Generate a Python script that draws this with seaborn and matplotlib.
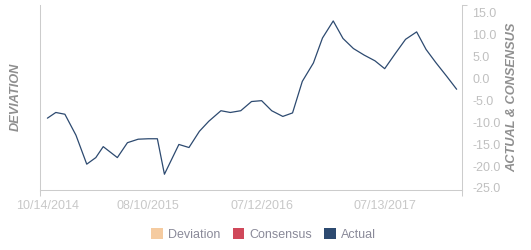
import matplotlib
matplotlib.use('Agg')
import matplotlib.pyplot as plt
import matplotlib.transforms as mtransforms
from matplotlib.patches import Patch
import seaborn as sns
import pandas as pd

# ---- data ----
dates = [
    '2014-10-14', '2014-11-08', '2014-12-05', '2015-01-07', '2015-02-08',
    '2015-03-07', '2015-03-29', '2015-05-10', '2015-06-09', '2015-07-11',
    '2015-08-10', '2015-09-06', '2015-09-27', '2015-11-09', '2015-12-09',
    '2016-01-09', '2016-02-06', '2016-03-13', '2016-04-10', '2016-05-11',
    '2016-06-12', '2016-07-12', '2016-08-11', '2016-09-13', '2016-10-12',
    '2016-11-10', '2016-12-13', '2017-01-09', '2017-02-10', '2017-03-11',
    '2017-04-11', '2017-05-13', '2017-06-14', '2017-07-13', '2017-08-13',
    '2017-09-13', '2017-10-16', '2017-11-13', '2017-12-12', '2018-01-13',
    '2018-02-12',
]
actual = [
    -8.6, -7.3, -7.7, -12.5, -19.1,
    -17.6, -15.1, -17.6, -14.2, -13.4,
    -13.3, -13.3, -21.4, -14.6, -15.3,
    -11.6, -9.3, -6.9, -7.3, -6.9,
    -4.8, -4.6, -6.9, -8.2, -7.4,
    -0.2, 4.0, 9.7, 13.6, 9.6,
    7.3, 5.8, 4.5, 2.7, 6.1,
    9.4, 11.1, 7.1, 4.1, 1.0,
    -2.0,
]
xtick_dates = ['2014-10-14', '2015-08-10', '2016-07-12', '2017-07-13']
ytick_values = [-25, -20, -15, -10, -5, 0, 5, 10, 15]
legend_labels = ['Deviation', 'Consensus', 'Actual']
legend_colors = ['#f5cba0', '#d0485a', '#2d4a70']

# ---- style ----
sns.set_theme(style='white')
plt.rcParams['font.family'] = ['Liberation Sans', 'DejaVu Sans']
plt.rcParams['axes.unicode_minus'] = False

W, H = 531, 250
fig = plt.figure(figsize=(W / 100, H / 100), dpi=100)
ax_l, ax_r, ax_t, ax_b = 40, 461.7, 5, 190
ax = fig.add_axes([ax_l / W, 1 - ax_b / H, (ax_r - ax_l) / W, (ax_b - ax_t) / H])

df = pd.DataFrame({'date': pd.to_datetime(dates), 'actual': actual})
sns.lineplot(data=df, x='date', y='actual', ax=ax, color=legend_colors[2],
             linewidth=0.9, legend=False)

x0, x1 = pd.Timestamp('2014-09-22'), pd.Timestamp('2018-02-27')
ax.set_xlim(x0, x1)
ax.set_ylim(-25, 17.24)

axis_col = '#cccccc'
for s in ['left', 'right', 'bottom']:
    ax.spines[s].set_color(axis_col)
    ax.spines[s].set_linewidth(0.75)
ax.spines['top'].set_visible(False)
ax.grid(False)
ax.set_xlabel('')
ax.set_ylabel('')

# x axis
xt = pd.to_datetime(xtick_dates)
ax.set_xticks(xt)
ax.set_xticklabels([d.strftime('%m/%d/%Y') for d in xt])
ax.tick_params(axis='x', which='major', length=0, pad=7.5, labelsize=9,
               labelcolor='#c8c8c8')
ax.set_xticks([x0, x1], minor=True)
ax.set_xticklabels(['', ''], minor=True)
ax.tick_params(axis='x', which='minor', length=4.3, width=0.75, color=axis_col,
               direction='out', bottom=True)

# y axis on the right
ax.yaxis.tick_right()
ax.set_yticks(ytick_values)
ax.set_yticklabels([f'{v:.1f}' for v in ytick_values])
ax.tick_params(axis='y', which='major', length=0, pad=7.5, labelsize=9,
               labelcolor='#c0c0c0', left=False, right=True)
ax.set_yticks([-25, 17.24], minor=True)
ax.set_yticklabels(['', ''], minor=True)
ax.tick_params(axis='y', which='minor', length=3.4, width=0.75, color=axis_col,
               direction='out', left=False, right=True)
offset = mtransforms.ScaledTranslation(0, 2 / 100, fig.dpi_scale_trans)
for t in ax.get_yticklabels():
    t.set_transform(t.get_transform() + offset)

# axis titles
fig.text(16 / W, 1 - 96.7 / H, 'DEVIATION', rotation=90, ha='center', va='center',
         fontsize=9.2, fontstyle='italic', fontweight='bold', color='#8f8f8f')
fig.text(512.5 / W, 1 - 97.5 / H, 'ACTUAL & CONSENSUS', rotation=90, ha='center',
         va='center', fontsize=9.2, fontstyle='italic', fontweight='bold',
         color='#8f8f8f')

# legend
handles = [Patch(facecolor=c, edgecolor='none', label=l)
           for l, c in zip(legend_labels, legend_colors)]
fig.legend(handles=handles, loc='center', bbox_to_anchor=(263.7 / W, 1 - 234.7 / H),
           ncol=3, frameon=False, fontsize=9, handlelength=0.95, handleheight=0.95,
           handletextpad=0.4, columnspacing=0.95, labelcolor='#8a8a99',
           borderaxespad=0, borderpad=0)

fig.savefig('out.png', dpi=100)
